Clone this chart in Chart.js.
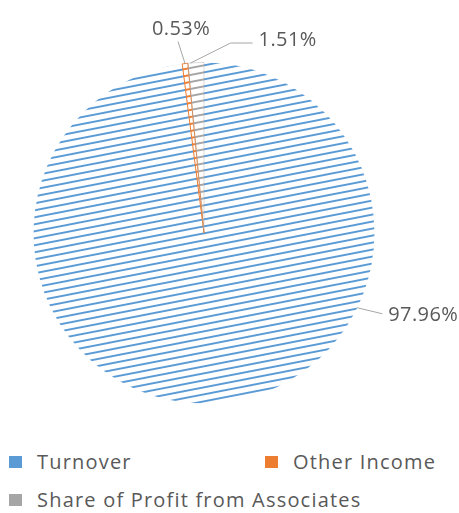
<!DOCTYPE html>
<html>
<head>
<meta charset="utf-8">
<script src="https://cdn.jsdelivr.net/npm/chart.js@4/dist/chart.umd.min.js"></script>
<style>
  html, body { margin: 0; padding: 0; background: #fff; }
  #wrap { position: relative; width: 459px; height: 513px; overflow: hidden; }
  #grafico { position: absolute; left: 0; top: 0; }
  .leg { position: absolute; font-family: "Open Sans", sans-serif; font-size: 20px; letter-spacing: 1.2px; color: #595959; line-height: 20px; white-space: nowrap; }
  .leg span.box { position: absolute; left: 0; top: 4px; width: 13px; height: 12px; }
  .leg span.txt { position: absolute; left: 28px; top: 0; }
</style>
</head>
<body>
<div id="wrap">
  <canvas id="grafico" width="459" height="430"></canvas>
  <div id="legenda"></div>
</div>
<script>
// dados do gráfico
const categorias = ['Turnover', 'Other Income', 'Share of Profit from Associates'];
const percentuais = [97.96, 0.53, 1.51];
const cores = ['#5B9BD5', '#ED7D31', '#A5A5A5'];

// preenchimento "rabiscado" (linhas inclinadas) como no original
function criarHachura(cor) {
    const c = document.createElement('canvas');
    c.width = 36;
    c.height = 7;
    const ctx = c.getContext('2d');
    ctx.strokeStyle = cor;
    ctx.lineWidth = 1.9;
    [-7, 0, 7].forEach(off => {
        ctx.beginPath();
        ctx.moveTo(0, 7 + off);
        ctx.lineTo(36, 0 + off);
        ctx.stroke();
    });
    return ctx.createPattern(c, 'repeat');
}

// rótulos com linhas de chamada
const chamadas = [
    { angulo: 116, linha: [[25, 6]], texto: [31, 8], align: 'left' },
    { angulo: null, linha: [[-7, -22]], texto: [-4, -34], align: 'center' },
    { angulo: 355.5, linha: [[40, -20], [62, -20]], texto: [68, -23], align: 'left' }
];

const pluginRotulos = {
    id: 'rotulos',
    afterDatasetsDraw(chart) {
        const ctx = chart.ctx;
        const meta = chart.getDatasetMeta(0);
        ctx.save();
        meta.data.forEach((arc, i) => {
            const spec = chamadas[i];
            let ang;
            if (spec.angulo === null) {
                ang = (arc.startAngle + arc.endAngle) / 2;
            } else {
                ang = spec.angulo * Math.PI / 180 - Math.PI / 2;
            }
            const ax = arc.x + Math.cos(ang) * arc.outerRadius;
            const ay = arc.y + Math.sin(ang) * arc.outerRadius;
            ctx.strokeStyle = '#A6A6A6';
            ctx.lineWidth = 1;
            ctx.beginPath();
            ctx.moveTo(ax, ay);
            spec.linha.forEach(p => ctx.lineTo(ax + p[0], ay + p[1]));
            ctx.stroke();
            ctx.fillStyle = '#595959';
            ctx.font = '20px "Open Sans", sans-serif';
            ctx.letterSpacing = '0.4px';
            ctx.textAlign = spec.align;
            ctx.textBaseline = 'middle';
            ctx.fillText(percentuais[i].toFixed(2) + '%', ax + spec.texto[0], ay + spec.texto[1]);
        });
        ctx.restore();
    }
};

const grafico = new Chart(document.getElementById('grafico'), {
    type: 'pie',
    data: {
        labels: categorias,
        datasets: [{
            data: percentuais,
            backgroundColor: cores.map(criarHachura),
            borderColor: cores,
            borderWidth: [0, 1, 0.4]
        }]
    },
    options: {
        responsive: false,
        animation: false,
        layout: { padding: { left: 10, right: 61, top: 62, bottom: 26 } },
        plugins: {
            legend: { display: false },
            tooltip: { enabled: false }
        }
    },
    plugins: [pluginRotulos]
});

// legenda em HTML (duas colunas como no original)
const posLegenda = [[9, 452], [265, 452], [9, 490]];
const legenda = document.getElementById('legenda');
categorias.forEach((nome, i) => {
    const div = document.createElement('div');
    div.className = 'leg';
    div.style.left = posLegenda[i][0] + 'px';
    div.style.top = posLegenda[i][1] + 'px';
    div.innerHTML = `<span class="box" style="background:${cores[i]}"></span><span class="txt">${nome}</span>`;
    legenda.appendChild(div);
});
</script>
</body>
</html>
